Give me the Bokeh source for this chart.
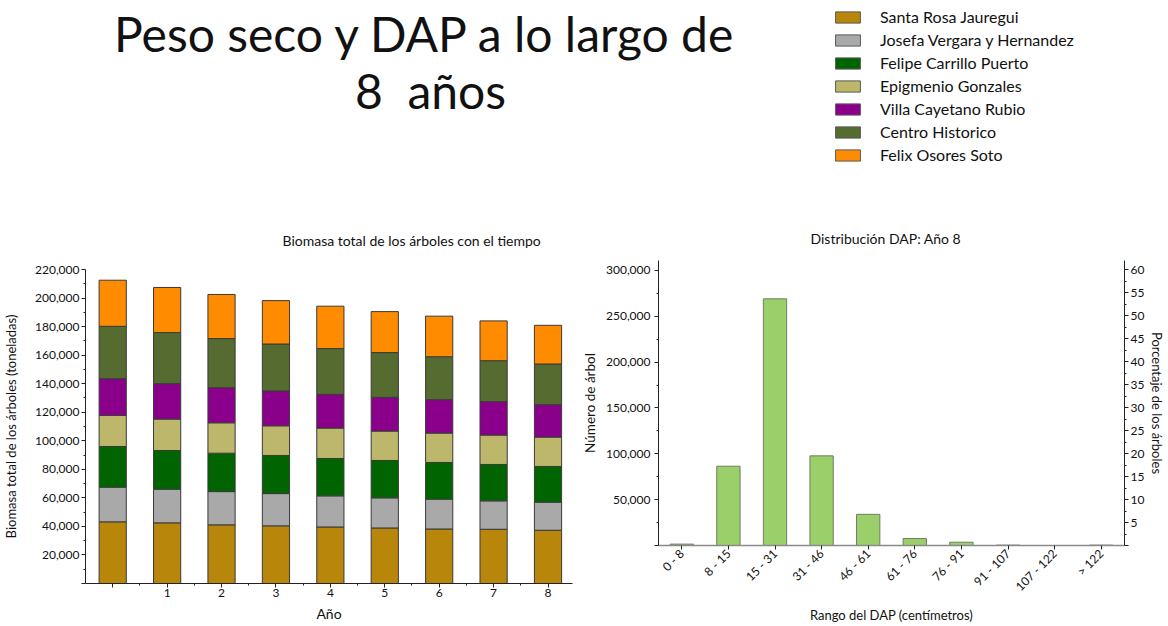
import math
from bokeh.plotting import figure
from bokeh.models import (ColumnDataSource, FixedTicker, NumeralTickFormatter, Range1d,
                          LinearAxis, Legend, LegendItem, Label, FactorRange)
from bokeh.layouts import column, row
from bokeh.embed import file_html
from bokeh.resources import INLINE

FONT = "Lato"

# ---------------- data ----------------
years = [0, 1, 2, 3, 4, 5, 6, 7, 8]
year_labels = ["", "1", "2", "3", "4", "5", "6", "7", "8"]

neighborhoods = ["Santa Rosa Jauregui", "Josefa Vergara y Hernandez", "Felipe Carrillo Puerto",
                 "Epigmenio Gonzales", "Villa Cayetano Rubio", "Centro Historico", "Felix Osores Soto"]
colors = ["#B8860B", "#A9A9A9", "#006400", "#BDB76B", "#8B008B", "#556B2F", "#FF8C00"]

santa_rosa = [43200, 42500, 41100, 40400, 39600, 38900, 38200, 38000, 37300]
josefa = [24300, 23600, 23300, 22600, 21800, 21100, 20900, 19900, 19700]
felipe = [28500, 27100, 26900, 26700, 26200, 26200, 25700, 25500, 25000]
epigmenio = [21800, 22000, 21300, 20800, 21300, 20600, 20600, 20600, 20600]
villa = [25700, 24800, 24600, 24400, 23600, 23600, 23400, 23400, 22700]
centro = [36700, 35800, 34400, 32900, 32100, 31400, 30100, 28700, 28500]
felix = [32300, 31600, 30900, 30400, 29700, 28700, 28400, 27900, 27100]

dap_ranges = ["0 - 8", "8 - 15", "15 - 31", "31 - 46", "46 - 61", "61 - 76",
              "76 - 91", "91 - 107", "107 - 122", "> 122"]
tree_counts = [1500, 86500, 269100, 97800, 34000, 7600, 3600, 400, 0, 400]

main_title = ["Peso seco y DAP a lo largo de", "8\u00a0 años"]
left_title = "Biomasa total de los árboles con el tiempo"
right_title = "Distribución DAP: Año 8"

# ---------------- header (title + legend) ----------------
HW, HH = 1168, 180
head = figure(width=HW, height=HH, x_range=Range1d(0, HW), y_range=Range1d(0, HH),
              x_axis_type=None, y_axis_type=None, output_backend="svg", toolbar_location=None,
              min_border=0, min_border_left=0, min_border_right=0, min_border_top=0, min_border_bottom=0)
head.grid.visible = False
head.outline_line_color = None

head.add_layout(Label(x=425, y=147, text=main_title[0], text_align="center", text_baseline="alphabetic",
                      text_font=FONT, text_font_size="48px", text_color="#111111"))
head.add_layout(Label(x=430, y=90, text=main_title[1], text_align="center", text_baseline="alphabetic",
                      text_font=FONT, text_font_size="48px", text_color="#111111"))

dummy = ColumnDataSource(dict(x=[float("nan")], top=[float("nan")]))
items = []
for name, c in zip(neighborhoods, colors):
    r = head.vbar(x="x", top="top", width=1, fill_color=c, line_color="#595959", source=dummy)
    items.append(LegendItem(label=name, renderers=[r]))
legend = Legend(items=items, location=(832, 16), glyph_width=31, glyph_height=14,
                label_height=16, spacing=4, padding=0, margin=0, label_standoff=17,
                label_text_font=FONT, label_text_font_size="16px", label_text_color="#111111",
                border_line_color=None, background_fill_alpha=0)
head.add_layout(legend, "center")

# ---------------- left chart ----------------
keys = ["santa_rosa", "josefa", "felipe", "epigmenio", "villa", "centro", "felix"]
src = ColumnDataSource(dict(year=years, santa_rosa=santa_rosa, josefa=josefa, felipe=felipe,
                            epigmenio=epigmenio, villa=villa, centro=centro, felix=felix))

p1 = figure(width=576, height=446, x_range=Range1d(-0.5, 8.45), y_range=Range1d(0, 220000),
            output_backend="svg", toolbar_location=None,
            min_border_left=85, min_border_right=4, min_border_top=89, min_border_bottom=43)
p1.vbar_stack(keys, x="year", width=0.5, fill_color=colors, line_color="#3a3a3a", line_width=1, source=src)

p1.title.text = left_title
p1.title.align = "left"
p1.title.offset = 197
p1.title.standoff = 42
p1.title.text_font = FONT
p1.title.text_font_size = "14px"
p1.title.text_font_style = "normal"
p1.title.text_color = "#111111"

for ax in (p1.xaxis[0], p1.yaxis[0]):
    ax.axis_line_color = "#222222"
    ax.major_tick_line_color = "#222222"
    ax.minor_tick_line_color = "#222222"
    ax.major_tick_in = 0
    ax.major_tick_out = 4
    ax.minor_tick_in = 0
    ax.minor_tick_out = 2
    ax.major_label_text_font = FONT
    ax.major_label_text_font_size = "12px"
    ax.major_label_text_color = "#111111"
    ax.axis_label_text_font = FONT
    ax.axis_label_text_font_size = "14px"
    ax.axis_label_text_font_style = "normal"
    ax.axis_label_text_color = "#111111"

p1.xaxis.ticker = FixedTicker(ticks=years, minor_ticks=[y + 0.5 for y in years[:-1]])
p1.xaxis.major_label_overrides = dict(zip(years, year_labels))
p1.xaxis.axis_label = "Año"
p1.xaxis.major_label_standoff = 1
p1.xaxis.axis_label_standoff = 5

p1.yaxis.ticker = FixedTicker(ticks=list(range(0, 220001, 20000)),
                              minor_ticks=list(range(10000, 220000, 20000)))
p1.yaxis.formatter = NumeralTickFormatter(format="0,0")
p1.yaxis.major_label_overrides = {0: ""}
p1.yaxis.axis_label = "Biomasa total de los árboles (toneladas)"
p1.yaxis.axis_label_text_font_size = "13px"
p1.yaxis.major_label_standoff = 2
p1.yaxis.axis_label_standoff = 13
p1.grid.visible = False
p1.outline_line_color = None

# ---------------- right chart ----------------
total_trees = sum(tree_counts)
ymax = 310900
p2 = figure(width=592, height=446, x_range=FactorRange(*dap_ranges, range_padding=0),
            y_range=Range1d(0, ymax), output_backend="svg", toolbar_location=None,
            min_border_left=82, min_border_right=42, min_border_top=80, min_border_bottom=81)
p2.extra_y_ranges = {"pct": Range1d(0, ymax * 100.0 / total_trees)}
src2 = ColumnDataSource(dict(rng=dap_ranges, count=tree_counts))
p2.vbar(x="rng", top="count", width=0.5, fill_color="#9BCF6A", line_color="#6E7D62", line_width=1, source=src2)

p2.title.text = right_title
p2.title.align = "left"
p2.title.offset = 152
p2.title.standoff = 28
p2.title.text_font = FONT
p2.title.text_font_size = "14px"
p2.title.text_font_style = "normal"
p2.title.text_color = "#111111"

raxis = LinearAxis(y_range_name="pct")
p2.add_layout(raxis, "right")

for ax in (p2.xaxis[0], p2.yaxis[0], raxis):
    ax.axis_line_color = "#222222"
    ax.major_tick_line_color = "#222222"
    ax.minor_tick_line_color = "#222222"
    ax.major_tick_in = 0
    ax.major_tick_out = 4
    ax.minor_tick_in = 0
    ax.minor_tick_out = 2
    ax.major_label_text_font = FONT
    ax.major_label_text_font_size = "12px"
    ax.major_label_text_color = "#111111"
    ax.axis_label_text_font = FONT
    ax.axis_label_text_font_size = "13px"
    ax.axis_label_text_font_style = "normal"
    ax.axis_label_text_color = "#111111"

p2.xaxis.axis_line_color = "#8a8a8a"
p2.xaxis.axis_line_width = 1.5
p2.xaxis.major_label_orientation = math.pi / 4
p2.xaxis.axis_label = "Rango del DAP (centímetros)"
p2.xaxis.major_label_standoff = 2
p2.xaxis.axis_label_standoff = 5

p2.yaxis[0].ticker = FixedTicker(ticks=list(range(0, 300001, 50000)),
                                 minor_ticks=list(range(25000, 310000, 50000)))
p2.yaxis[0].formatter = NumeralTickFormatter(format="0,0")
p2.yaxis[0].major_label_overrides = {0: ""}
p2.yaxis[0].axis_label = "Número de árbol"
p2.yaxis[0].axis_label_text_font_size = "13.5px"
p2.yaxis[0].major_label_standoff = 4
p2.yaxis[0].axis_label_standoff = 5

raxis.ticker = FixedTicker(ticks=list(range(0, 61, 5)), minor_ticks=[x + 2.5 for x in range(0, 60, 5)])
raxis.major_label_overrides = {0: ""}
raxis.axis_label = "Porcentaje de los árboles"
raxis.major_label_standoff = 2
raxis.axis_label_standoff = 2

p2.grid.visible = False
p2.outline_line_color = None

layout = column(head, row(column(p1), column(p2)))
open("out.html", "w").write(file_html(layout, INLINE))
